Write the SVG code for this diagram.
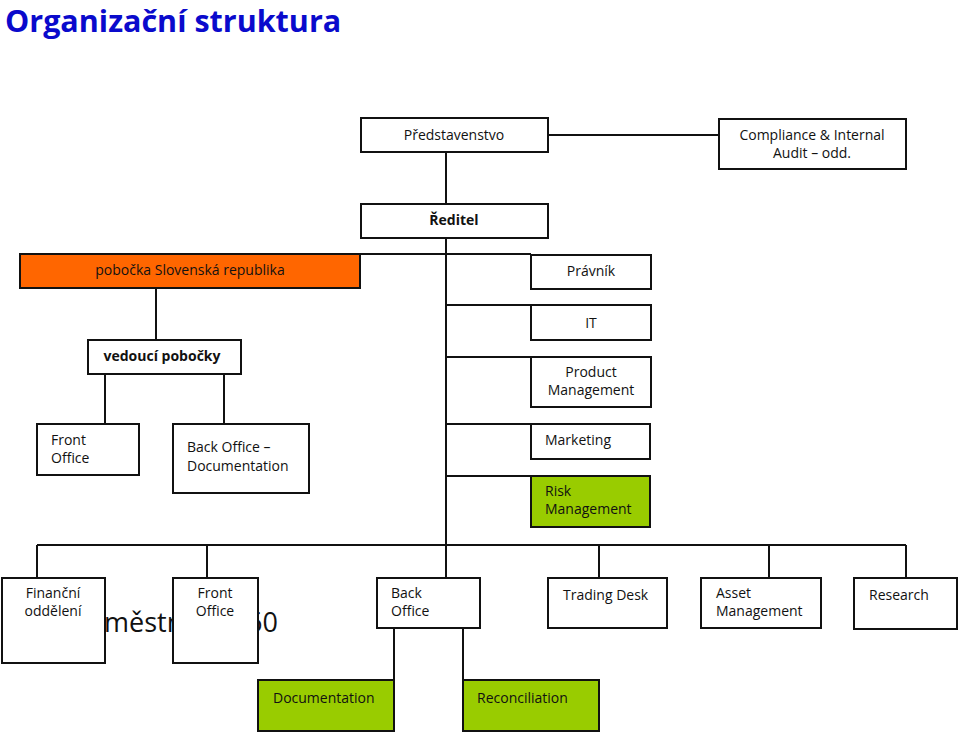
<svg xmlns="http://www.w3.org/2000/svg" width="960" height="733" viewBox="0 0 960 733">
<style>
.b{fill:#fff;stroke:#111;stroke-width:2}
.o{fill:#FF6600;stroke:#111;stroke-width:2}
.g{fill:#99CC00;stroke:#111;stroke-width:2}
text{font-family:"Open Sans","Noto Sans","DejaVu Sans",sans-serif;font-size:14px;fill:#111}
.c{text-anchor:middle}
.bold{font-weight:bold}
.big{font-size:27px}
.conn path{stroke:#111;stroke-width:2;fill:none}
</style>
<rect width="960" height="733" fill="#fff"/>
<text x="5" y="32" style="font-size:30.5px;font-weight:bold;fill:#0A0ACC">Organizační struktura</text>
<text class="big" x="104" y="632">městn</text>
<text class="big" x="278" y="632" text-anchor="end">60</text>
<g class="conn">
<path d="M548,135 H719"/>
<path d="M446,152 V204"/>
<path d="M446,238 V578"/>
<path d="M360,254 H531"/>
<path d="M446,305 H531"/>
<path d="M446,357 H531"/>
<path d="M446,424 H531"/>
<path d="M446,476 H531"/>
<path d="M156,288 V340"/>
<path d="M105,374 V424"/>
<path d="M224,374 V424"/>
<path d="M37,545 H906"/>
<path d="M37,545 V578 M207,545 V578 M599,545 V578 M769,545 V578 M906,545 V578"/>
<path d="M394,628 V680 M463,628 V680"/>
</g>
<g id="predstavenstvo"><rect class="b" x="361" y="118" width="187" height="34"/><text class="c" x="454" y="140">Představenstvo</text></g>
<g id="compliance"><rect class="b" x="719" y="119" width="187" height="50"/><text class="c" x="812" y="140">Compliance &amp; Internal</text><text class="c" x="812" y="158">Audit – odd.</text></g>
<g id="reditel"><rect class="b" x="361" y="204" width="187" height="34"/><text class="c bold" x="454" y="225">Ředitel</text></g>
<g id="pobocka"><rect class="o" x="20" y="254" width="340" height="34"/><text class="c" x="190" y="275">pobočka Slovenská republika</text></g>
<g id="vedouci"><rect class="b" x="88" y="340" width="153" height="34"/><text class="c bold" x="162" y="361">vedoucí pobočky</text></g>
<g id="front-office-sk"><rect class="b" x="37" y="424" width="102" height="51"/><text x="51" y="445">Front</text><text x="51" y="463">Office</text></g>
<g id="back-office-doc"><rect class="b" x="173" y="424" width="136" height="69"/><text x="187" y="452">Back Office –</text><text x="187" y="471">Documentation</text></g>
<g id="pravnik"><rect class="b" x="531" y="255" width="120" height="34"/><text class="c" x="591" y="276">Právník</text></g>
<g id="it"><rect class="b" x="531" y="305" width="120" height="35"/><text class="c" x="591" y="328">IT</text></g>
<g id="product"><rect class="b" x="531" y="357" width="120" height="50"/><text class="c" x="591" y="377">Product</text><text class="c" x="591" y="395">Management</text></g>
<g id="marketing"><rect class="b" x="531" y="424" width="119" height="35"/><text x="545" y="445">Marketing</text></g>
<g id="risk"><rect class="g" x="531" y="476" width="119" height="51"/><text x="545" y="496">Risk</text><text x="545" y="514">Management</text></g>
<g id="financni"><rect class="b" x="2" y="578" width="103" height="85"/><text class="c" x="53" y="598">Finanční</text><text class="c" x="53" y="616">oddělení</text></g>
<g id="front-office"><rect class="b" x="173" y="578" width="85" height="85"/><text class="c" x="215" y="598">Front</text><text class="c" x="215" y="616">Office</text></g>
<g id="back-office"><rect class="b" x="377" y="578" width="103" height="50"/><text x="391" y="598">Back</text><text x="391" y="616">Office</text></g>
<g id="trading"><rect class="b" x="548" y="578" width="119" height="50"/><text x="563" y="600">Trading Desk</text></g>
<g id="asset"><rect class="b" x="701" y="578" width="120" height="50"/><text x="716" y="598">Asset</text><text x="716" y="616">Management</text></g>
<g id="research"><rect class="b" x="854" y="578" width="103" height="51"/><text x="869" y="600">Research</text></g>
<g id="documentation"><rect class="g" x="258" y="680" width="136" height="51"/><text x="273" y="703">Documentation</text></g>
<g id="reconciliation"><rect class="g" x="463" y="680" width="136" height="51"/><text x="477" y="703">Reconciliation</text></g>
</svg>
